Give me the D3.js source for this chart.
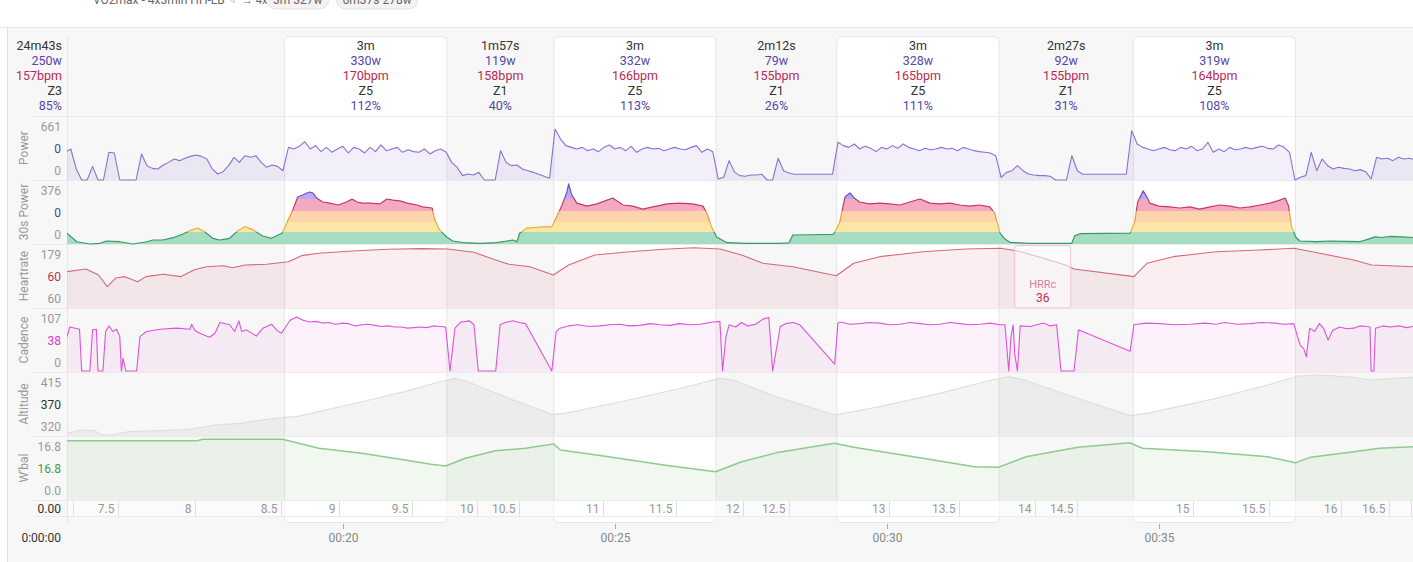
<!DOCTYPE html>
<html><head><meta charset="utf-8">
<script src="https://cdn.jsdelivr.net/npm/d3@7"></script>
<style>
html,body{margin:0;padding:0;background:#fff;}
svg{display:block;font-family:Roboto,"Noto Sans",sans-serif;}
</style></head><body>
<svg id="c" width="1413" height="562"></svg>
<script>
// ---------------- DATA ----------------
const viewRange = [14.93, 39.67];           // minutes visible
const timeTicks = [20, 25, 30, 35];          // minutes

const segStart = [18.92, 21.92, 23.87, 26.87, 29.07, 32.07, 34.52];
const segEnd   = [21.92, 23.87, 26.87, 29.07, 32.07, 34.52, 37.52];
const segWork  = [true, false, true, false, true, false, true];
const segDur   = ["3m", "1m57s", "3m", "2m12s", "3m", "2m27s", "3m"];
const segWatts = [330, 119, 332, 79, 328, 92, 319];
const segBpm   = [170, 158, 166, 155, 165, 155, 164];
const segZone  = ["Z5", "Z1", "Z5", "Z1", "Z5", "Z1", "Z5"];
const segPct   = [112, 40, 113, 26, 111, 31, 108];
const preStats = ["24m43s", "250w", "157bpm", "Z3", "85%"];

const titleText = "VO2max - 4x3min HH-LB";
const pillTexts = ["3m 327w", "6m37s 278w"];

// power, sampled every 0.1 min from 14.9
const powerStart = 14.9, powerStep = 0.1;
const powerW = [
286,320,114,0,0,141,0,0,286,279,
0,0,0,0,269,148,120,114,155,182,
217,200,224,244,258,244,217,114,62,86,
148,234,182,251,234,251,182,131,155,141,
96,337,320,348,396,320,355,293,337,286,
320,348,279,337,320,279,337,293,362,303,
320,337,286,313,293,286,320,269,303,320,
286,182,131,45,62,52,79,0,0,0,
303,182,148,155,114,96,79,59,38,17,
527,423,355,337,320,337,303,320,293,337,
362,320,337,303,348,286,320,337,320,327,
303,320,337,320,313,337,355,286,320,293,
10,28,200,79,45,38,52,52,59,0,
0,224,96,72,59,59,59,59,59,59,
59,59,389,355,337,372,320,348,327,293,
337,320,355,327,372,337,320,303,327,313,
320,337,320,327,303,337,320,303,293,286,
279,251,28,79,96,148,96,62,52,45,
45,38,0,0,0,251,96,59,59,59,
59,59,59,59,59,59,510,372,337,320,
303,320,337,313,303,337,320,348,303,320,
389,286,320,293,337,313,320,337,320,337,
348,327,320,362,337,286,0,28,45,286,
96,217,148,114,131,120,114,96,107,86,
10,234,217,224,200,234,217,224,210];

// 30s power [minute, watts]
const power30 = [
[14.93,197],[15.11,42],[15.35,0],[15.53,13],[15.66,55],[15.90,42],[16.14,0],[16.40,42],[16.51,74],[16.69,74],
[16.88,116],[17.06,184],[17.19,227],[17.33,239],[17.46,222],[17.61,105],[17.74,74],[17.92,105],[18.07,227],[18.20,245],
[18.33,233],[18.53,147],[18.69,105],[18.81,166],[18.88,197],[18.97,262],[19.08,314],[19.17,370],[19.26,386],[19.34,403],
[19.39,411],[19.45,403],[19.52,362],[19.63,343],[19.76,339],[19.91,332],[20.07,343],[20.17,354],[20.26,343],[20.37,339],
[20.50,339],[20.68,336],[20.81,354],[20.92,350],[21.05,347],[21.18,339],[21.36,332],[21.47,325],[21.64,321],[21.69,274],
[21.78,230],[21.91,129],[22.02,55],[22.21,24],[22.52,13],[22.83,24],[23.13,74],[23.20,42],[23.25,197],[23.38,238],
[23.75,245],[23.84,243],[23.93,287],[24.03,332],[24.12,413],[24.15,476],[24.21,386],[24.30,339],[24.49,328],[24.67,336],
[24.96,362],[25.15,332],[25.33,328],[25.51,317],[25.70,325],[25.96,336],[26.19,339],[26.43,336],[26.62,328],[26.69,302],
[26.78,243],[26.87,129],[27.06,24],[27.43,13],[28.03,13],[28.20,20],[28.27,166],[28.60,170],[29.02,178],[29.13,262],
[29.23,370],[29.32,403],[29.40,362],[29.50,343],[29.68,336],[29.87,339],[30.05,336],[30.24,332],[30.42,343],[30.61,354],
[30.79,339],[30.97,336],[31.16,339],[31.34,332],[31.52,328],[31.70,332],[31.89,325],[31.98,302],[32.08,200],[32.17,90],
[32.26,30],[32.60,13],[33.00,13],[33.40,13],[33.45,150],[33.55,190],[34.00,195],[34.47,200],[34.55,262],[34.61,343],
[34.71,420],[34.78,370],[34.83,339],[35.00,328],[35.20,325],[35.38,321],[35.57,325],[35.75,317],[35.94,325],[36.12,332],
[36.31,328],[36.49,321],[36.67,325],[36.86,332],[37.04,339],[37.22,350],[37.32,362],[37.38,330],[37.44,243],[37.52,120],
[37.59,55],[37.90,42],[38.14,55],[38.40,50],[38.69,42],[38.85,90],[38.97,130],[39.10,120],[39.25,140],[39.45,130],[39.67,120]];
const zoneBounds = [0, 221, 266, 310, 354, 500];
const zoneFill = ["#a6dcc2", "#fbe6a6", "#fcd3ab", "#f5a9c0", "#bcaaea"];
const zoneLine = ["#3a9868", "#e2b43c", "#ee9a3c", "#c73a60", "#6c50d2"];

// heart rate [minute, bpm]
const hrData = [
[14.93,146.7],[15.28,150.2],[15.51,142.4],[15.67,127.4],[15.83,138.6],[15.99,140.3],[16.23,133.8],[16.38,140.3],[16.70,143.3],
[17.02,140.3],[17.26,148.9],[17.49,153.1],[17.81,154.4],[17.97,151.8],[18.21,155.3],[18.60,156.2],[19.00,159.5],[19.24,167.3],
[19.56,170.3],[20.18,173.3],[20.83,175.5],[21.45,176.3],[21.93,175.9],[22.41,171.6],[22.81,161.7],[23.05,156.2],[23.44,153.1],
[23.87,142.4],[24.15,155.3],[24.63,168.2],[25.27,172.4],[25.90,175.5],[26.45,177.5],[26.93,175.9],[27.33,168.2],[27.72,157.5],
[28.27,153.1],[29.07,141.5],[29.39,157.5],[29.87,166],[30.66,172.4],[31.45,175.9],[32.09,176.8],[32.41,173.3],[32.88,163.9],
[33.28,155.3],[33.44,150.2],[34.54,140.3],[34.78,157.5],[35.26,166],[36.05,172.4],[36.84,174.6],[37.48,176.8],[37.96,170.3],
[38.58,161.7],[38.91,155.3],[39.67,153.1]];
const hrrcRange = [32.35, 33.38];
const hrrcValue = 36;

// cadence [minute, rpm]
const cadData = [
[14.93,61],[14.98,78],[15.16,74],[15.20,0],[15.35,0],[15.40,73],[15.47,74],[15.50,0],[15.59,0],[15.64,70],
[15.70,80],[15.77,70],[15.84,74],[15.90,61],[15.93,0],[15.96,23],[16.01,0],[16.21,0],[16.27,61],[16.39,70],
[16.64,74],[16.94,76],[17.19,74],[17.22,83],[17.28,72],[17.37,67],[17.55,60],[17.65,67],[17.74,86],[17.92,82],
[18.01,70],[18.09,89],[18.14,70],[18.23,73],[18.41,62],[18.53,76],[18.69,83],[18.78,73],[18.87,67],[19.03,90],
[19.15,96],[19.27,90],[19.39,87],[19.51,88],[19.63,85],[19.75,86],[19.87,83],[19.99,85],[20.11,84],[20.23,80],
[20.35,82],[20.47,83],[20.59,81],[20.71,79],[20.83,80],[20.95,78],[21.07,78],[21.19,76],[21.31,77],[21.43,78],
[21.54,77],[21.66,80],[21.78,79],[21.89,78],[21.97,0],[22.06,76],[22.17,87],[22.26,88],[22.33,89],[22.41,82],
[22.49,0],[22.81,0],[22.89,82],[22.98,86],[23.13,89],[23.25,86],[23.36,84],[23.84,0],[23.92,70],[23.99,76],
[24.15,80],[24.32,82],[24.52,79],[24.72,80],[24.90,82],[25.09,83],[25.27,80],[25.46,81],[25.65,84],[25.83,82],
[26.01,81],[26.19,84],[26.38,82],[26.56,83],[26.69,85],[26.80,87],[26.93,88],[26.98,0],[27.04,60],[27.10,82],
[27.22,78],[27.33,86],[27.44,80],[27.59,83],[27.72,92],[27.83,95],[27.90,0],[28.04,79],[28.14,84],[28.28,86],
[28.40,82],[29.04,12],[29.10,85],[29.15,87],[29.32,83],[29.50,84],[29.68,86],[29.87,85],[30.05,82],[30.24,83],
[30.42,86],[30.61,84],[30.79,82],[30.97,83],[31.16,86],[31.34,84],[31.52,82],[31.71,83],[31.90,85],[32.08,82],
[32.17,82],[32.24,0],[32.28,60],[32.32,82],[32.35,30],[32.40,0],[32.45,80],[32.64,79],[32.88,85],[33.00,80],
[33.12,82],[33.20,0],[33.44,0],[33.52,73],[34.47,35],[34.54,82],[34.75,85],[35.02,84],[35.30,82],[35.57,83],
[35.85,85],[36.05,83],[36.21,86],[36.45,83],[36.67,84],[36.90,86],[37.13,85],[37.30,83],[37.48,84],[37.55,60],
[37.60,45],[37.66,40],[37.71,25],[37.77,76],[37.86,70],[37.95,84],[38.03,75],[38.11,55],[38.19,72],[38.32,78],
[38.45,75],[38.58,76],[38.69,80],[38.82,79],[38.88,78],[38.90,0],[38.95,0],[38.98,76],[39.12,80],[39.25,78],
[39.43,80],[39.55,77],[39.67,79]];

// altitude [minute, m]
const altData = [
[14.93,310.1],[15.19,316.4],[15.43,315.1],[15.59,306.9],[15.75,306.9],[16.07,313.2],[16.70,315.1],[17.18,317.8],
[17.65,326],[18.13,329.2],[18.60,336.8],[18.92,340.6],[19.15,341.8],[19.56,351.3],[20.35,370.3],[21.14,389.4],
[21.78,408.4],[22.06,414.9],[22.25,410.3],[23.05,376.8],[23.84,346.3],[24.08,348.2],[25.11,370.3],[26.22,395.9],
[26.93,414.9],[27.17,411.7],[27.96,379.9],[29.04,345],[29.87,360.8],[30.97,386.3],[31.93,411.7],[32.24,418],
[32.48,413],[33.51,376.8],[34.47,343.7],[34.78,348.2],[36.05,376.8],[37.00,402.2],[37.55,419.3],[37.96,421.2],
[38.58,416.8],[38.91,411.7],[39.30,414.9],[39.67,416.8]];

// W'bal [minute, kJ]
const wbalData = [
[14.93,16.6],[17.33,16.6],[17.42,17.0],[18.89,17.0],[19.08,16.3],[19.56,14.5],[20.35,13.1],[21.14,11.2],[21.62,10.0],
[21.89,9.5],[22.25,11.7],[22.81,13.8],[23.36,14.5],[23.87,15.7],[24.00,14.0],[24.79,12.3],[25.90,9.8],[26.85,7.9],
[27.33,10.7],[27.96,13.2],[29.04,15.9],[29.39,14.8],[30.66,11.7],[31.61,9.3],[32.06,9.2],[32.56,12.1],[33.51,14.8],
[34.47,16.0],[34.70,14.5],[35.89,13.5],[37.00,12.1],[37.51,10.4],[37.79,12.0],[38.58,13.5],[39.06,14.5],[39.67,14.9]];

// distance ticks (km) and the minute they were reached
const distLabel = ["", "7.5", "8", "8.5", "9", "9.5", "10", "10.5", "11", "11.5", "12", "12.5", "13", "13.5", "14", "14.5", "15", "15.5", "16", "16.5", ""];
const distAt    = [15.04, 15.86, 17.28, 18.86, 19.93, 21.27, 22.46, 23.24, 24.78, 26.12, 27.35, 28.20, 30.04, 31.33, 32.72, 33.49, 35.63, 37.02, 38.35, 39.23, 39.63];

const axisTitles = ["Power", "30s Power", "Heartrate", "Cadence", "Altitude", "W'bal"];
const axisTop = ["661", "376", "179", "107", "415", "16.8"];
const axisMid = ["0", "0", "60", "38", "370", "16.8"];
const axisBot = ["0", "0", "60", "0", "320", "0.0"];
const axisMidColor = ["#4c3fa6", "#4c3fa6", "#c0304c", "#d43ccb", "#333333", "#3f9a3f"];

// ---------------- DRAW ----------------
const W = 1413, H = 562;
const svg = d3.select('#c');
const X0 = 67, X1 = 1413;
const x = d3.scaleLinear().domain(viewRange).range([X0, X1]);
const PT = 116, PH = 64;
const pTop = k => PT + PH * k;

svg.append('rect').attr('width', W).attr('height', H).attr('fill', '#fff');
svg.append('rect').attr('x', 8).attr('y', 28).attr('width', W - 8).attr('height', H - 28).attr('fill', '#f7f7f7');
svg.append('line').attr('x1', 0).attr('x2', W).attr('y1', 27.5).attr('y2', 27.5).attr('stroke', '#e4e4e4');
svg.append('line').attr('x1', 7.5).attr('x2', 7.5).attr('y1', 28).attr('y2', H).attr('stroke', '#e2e2e2');

// header (cut) title
const hdr = svg.append('g').attr('font-size', 12).attr('fill', '#666');
hdr.append('text').attr('x', 93).attr('y', 4).text(titleText);
hdr.append('text').attr('x', 228).attr('y', 4).attr('font-size', 10).attr('fill', '#c8c8c8').text('✎');
hdr.append('text').attr('x', 242).attr('y', 4).attr('font-size', 11).text('→ 4x');
let px = 267;
pillTexts.forEach(t => {
  const g = hdr.append('g');
  const r = g.append('rect');
  const tx = g.append('text').attr('x', px + 6).attr('y', 4).text(t);
  const w = tx.node().getComputedTextLength() + 12;
  r.attr('x', px).attr('y', -12).attr('width', w).attr('height', 21).attr('rx', 9)
    .attr('fill', '#f3f3f3').attr('stroke', '#e3e3e3');
  px += w + 8;
});

// interval boxes
segStart.forEach((s, i) => {
  if (!segWork[i]) return;
  svg.append('rect').attr('x', x(s) + 0.5).attr('y', 36.5).attr('width', x(segEnd[i]) - x(s) - 1)
    .attr('height', 486).attr('rx', 5).attr('fill', '#fff').attr('stroke', '#e6e6e6');
});

// distance band background
svg.append('rect').attr('x', X0).attr('y', 500).attr('width', X1 - X0).attr('height', 16.5).attr('fill', 'rgba(255,255,255,0.55)');

// separators
for (let k = 0; k <= 6; k++) {
  svg.append('line').attr('x1', 33).attr('x2', W).attr('y1', pTop(k) + 0.5).attr('y2', pTop(k) + 0.5).attr('stroke', '#ebebeb');
}
svg.append('line').attr('x1', 33).attr('x2', W).attr('y1', 516.5).attr('y2', 516.5).attr('stroke', '#ebebeb');
svg.append('line').attr('x1', X0 + 0.5).attr('x2', X0 + 0.5).attr('y1', 36).attr('y2', 523).attr('stroke', '#e6e6e6');

// clip
const defs = svg.append('defs');
defs.append('clipPath').attr('id', 'plotclip').append('rect').attr('x', X0).attr('y', 100).attr('width', X1 - X0).attr('height', 420);
const plot = svg.append('g').attr('clip-path', 'url(#plotclip)');

function drawSeries(data, yDom, yRange, bottom, lineColor, fillColor, lw) {
  const y = d3.scaleLinear().domain(yDom).range(yRange);
  const area = d3.area().x(d => x(d[0])).y0(bottom).y1(d => y(d[1]));
  const line = d3.line().x(d => x(d[0])).y(d => y(d[1]));
  plot.append('path').datum(data).attr('d', area).attr('fill', fillColor);
  plot.append('path').datum(data).attr('d', line).attr('fill', 'none').attr('stroke', lineColor)
    .attr('stroke-width', lw).attr('stroke-linejoin', 'round');
}

const powerData = powerW.map((v, i) => [powerStart + powerStep * i, v]);
drawSeries(powerData, [0, 661], [180, 116], 180, '#8a70d6', 'rgba(138,112,214,0.11)', 1.1);

// 30s power with zone bands
const y30 = d3.scaleLinear().domain(zoneBounds).range([244, 232, 222, 211, 199, 181]);
const area30 = d3.area().x(d => x(d[0])).y0(244).y1(d => y30(d[1]));
const line30 = d3.line().x(d => x(d[0])).y(d => y30(d[1]));
defs.append('clipPath').attr('id', 'a30').append('path').datum(power30).attr('d', area30);
const g30 = plot.append('g').attr('clip-path', 'url(#a30)');
zoneFill.forEach((c, k) => {
  const yTop = k === zoneFill.length - 1 ? 170 : y30(zoneBounds[k + 1]);
  const yBot = y30(zoneBounds[k]);
  g30.append('rect').attr('x', X0).attr('y', yTop).attr('width', X1 - X0).attr('height', yBot - yTop).attr('fill', c);
});
zoneLine.forEach((c, k) => {
  const yTop = k === zoneLine.length - 1 ? 170 : y30(zoneBounds[k + 1]);
  const yBot = k === 0 ? 250 : y30(zoneBounds[k]);
  defs.append('clipPath').attr('id', 'zl' + k).append('rect').attr('x', X0).attr('y', yTop).attr('width', X1 - X0).attr('height', yBot - yTop);
  plot.append('g').attr('clip-path', 'url(#zl' + k + ')').append('path').datum(power30).attr('d', line30)
    .attr('fill', 'none').attr('stroke', c).attr('stroke-width', 1.2).attr('stroke-linejoin', 'round');
});

drawSeries(hrData, [100, 181], [308, 245], 308, '#d4687f', 'rgba(212,104,127,0.11)', 1.1);
drawSeries(cadData, [0, 110], [371, 309], 372, '#e052dc', 'rgba(224,82,220,0.08)', 1.1);
drawSeries(altData, [305, 425], [436, 373], 436, '#dedede', 'rgba(0,0,0,0.045)', 1.2);
drawSeries(wbalData, [0, 17.64], [500, 437], 500, '#8ccc8c', 'rgba(140,204,140,0.13)', 1.5);

// HRRc box
const hx0 = x(hrrcRange[0]), hx1 = x(hrrcRange[1]);
svg.append('rect').attr('x', hx0).attr('y', 245.5).attr('width', hx1 - hx0).attr('height', 62.5).attr('rx', 3)
  .attr('fill', 'rgba(255,255,255,0.55)').attr('stroke', '#f1c3cf');
svg.append('text').attr('x', (hx0 + hx1) / 2).attr('y', 288).attr('text-anchor', 'middle').attr('font-size', 11)
  .attr('fill', '#d97f9b').text('HRRc');
svg.append('text').attr('x', (hx0 + hx1) / 2).attr('y', 302).attr('text-anchor', 'middle').attr('font-size', 12)
  .attr('fill', '#c0304c').text(hrrcValue);

// interval stats
const statColors = ['#333', '#5646a8', '#b72b55', '#333', '#5646a8'];
const statY = [49.5, 64.5, 79.5, 94.5, 109.5];
const stats = svg.append('g').attr('font-size', 12.5);
preStats.forEach((s, j) => {
  stats.append('text').attr('x', 62).attr('y', statY[j]).attr('text-anchor', 'end').attr('fill', statColors[j]).text(s);
});
segStart.forEach((s, i) => {
  const cx = x((s + segEnd[i]) / 2);
  const vals = [segDur[i], segWatts[i] + 'w', segBpm[i] + 'bpm', segZone[i], segPct[i] + '%'];
  vals.forEach((v, j) => {
    stats.append('text').attr('x', cx).attr('y', statY[j]).attr('text-anchor', 'middle').attr('fill', statColors[j]).text(v);
  });
});

// y-axis labels
const yl = svg.append('g').attr('font-size', 12);
axisTitles.forEach((t, k) => {
  const top = pTop(k);
  yl.append('text').attr('x', 61).attr('y', top + 15).attr('text-anchor', 'end').attr('fill', '#999').text(axisTop[k]);
  yl.append('text').attr('x', 61).attr('y', top + 36.5).attr('text-anchor', 'end').attr('fill', axisMidColor[k]).text(axisMid[k]);
  yl.append('text').attr('x', 61).attr('y', top + 58.5).attr('text-anchor', 'end').attr('fill', '#999').text(axisBot[k]);
  yl.append('text').attr('transform', `translate(27.5,${top + PH / 2}) rotate(-90)`).attr('text-anchor', 'middle')
    .attr('fill', '#999').text(t);
});

// distance axis
const da = svg.append('g').attr('font-size', 12);
da.append('text').attr('x', 61).attr('y', 513).attr('text-anchor', 'end').attr('fill', '#333').text('0.00');
distAt.forEach((t, i) => {
  const xx = Math.round(x(t)) + 0.5;
  da.append('line').attr('x1', xx).attr('x2', xx).attr('y1', 501).attr('y2', 516).attr('stroke', '#dedede');
  da.append('text').attr('x', xx - 4).attr('y', 513).attr('text-anchor', 'end').attr('fill', '#999').text(distLabel[i]);
});

// time axis
const ta = svg.append('g').attr('font-size', 12);
ta.append('text').attr('x', 61).attr('y', 541.5).attr('text-anchor', 'end').attr('fill', '#333').text('0:00:00');
timeTicks.forEach(t => {
  const xx = Math.round(x(t)) + 0.5;
  ta.append('line').attr('x1', xx).attr('x2', xx).attr('y1', 524).attr('y2', 529).attr('stroke', '#aaa');
  ta.append('text').attr('x', xx).attr('y', 541.5).attr('text-anchor', 'middle').attr('fill', '#888')
    .text('00:' + String(t).padStart(2, '0'));
});
</script>
</body></html>
